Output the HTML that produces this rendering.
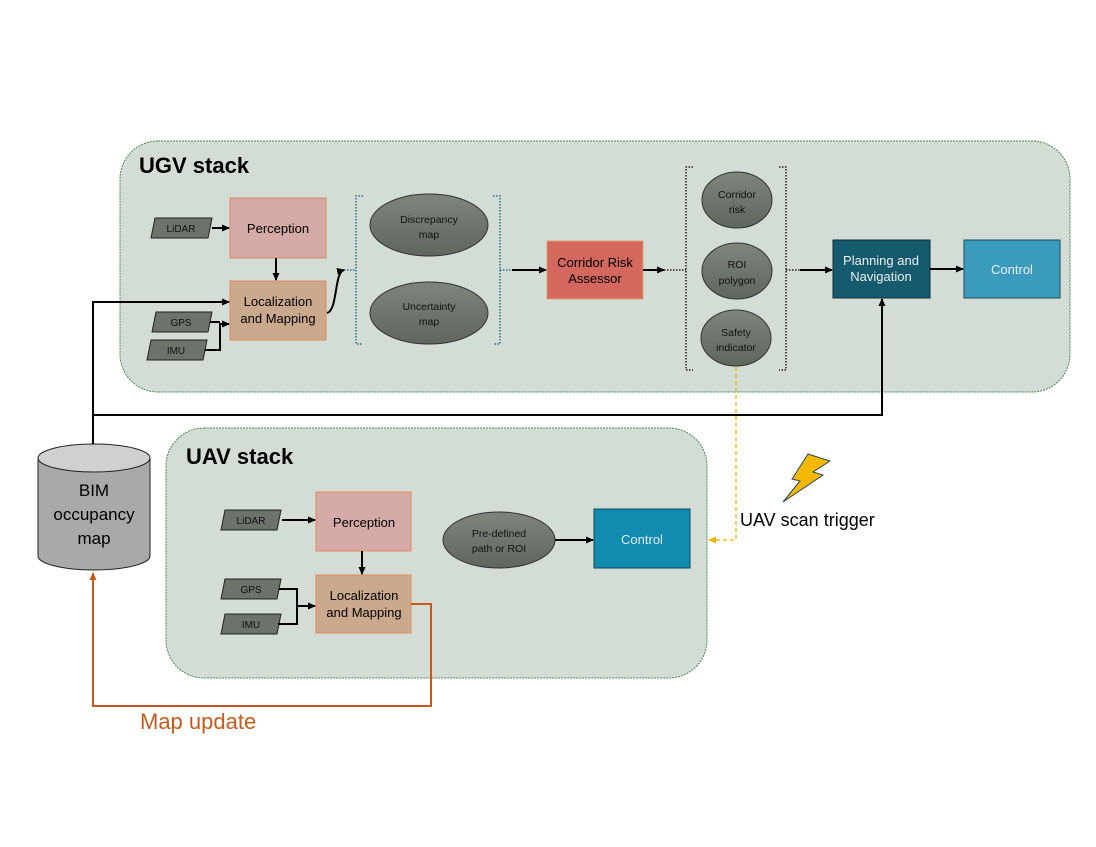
<!DOCTYPE html>
<html><head><meta charset="utf-8"><style>
body{margin:0;background:#fff}
svg{display:block;font-family:"Liberation Sans",sans-serif}
</style></head><body>
<svg width="1096" height="847" viewBox="0 0 1096 847" xmlns="http://www.w3.org/2000/svg">
<defs>
<marker id="a" markerWidth="8" markerHeight="8" refX="7" refY="4" orient="auto" markerUnits="userSpaceOnUse"><path d="M0,0.5 L8,4 L0,7.5z" fill="#000"/></marker>
<marker id="ao" markerWidth="8" markerHeight="8" refX="7" refY="4" orient="auto" markerUnits="userSpaceOnUse"><path d="M0,0.5 L8,4 L0,7.5z" fill="#c55a1e"/></marker>
<marker id="ay" markerWidth="8" markerHeight="8" refX="7" refY="4" orient="auto" markerUnits="userSpaceOnUse"><path d="M0,0.5 L8,4 L0,7.5z" fill="#f0b400"/></marker>
<linearGradient id="eg" x1="0" y1="0" x2="0" y2="1"><stop offset="0" stop-color="#7d857c"/><stop offset="1" stop-color="#5e665e"/></linearGradient>
</defs>
<rect x="120" y="141" width="950" height="251" rx="38" fill="#d4ddd5" stroke="#4a8a50" stroke-dasharray="2,1"/>
<rect x="166" y="428" width="541" height="250" rx="38" fill="#d4ddd5" stroke="#4a8a50" stroke-dasharray="2,1"/>
<text x="139" y="173" font-size="22" font-weight="bold">UGV stack</text>
<text x="186" y="464" font-size="22" font-weight="bold">UAV stack</text>

<g font-size="10" fill="#111" text-anchor="middle">
<polygon points="155,218 212,218 208,238 151,238" fill="#6b736b" stroke="#222"/><text x="181" y="232">LiDAR</text>
<polygon points="156,312 212,312 208,332 152,332" fill="#6b736b" stroke="#222"/><text x="181" y="326">GPS</text>
<polygon points="151,340 207,340 203,360 147,360" fill="#6b736b" stroke="#222"/><text x="176" y="354">IMU</text>
<polygon points="225,510 281,510 277,530 221,530" fill="#6b736b" stroke="#222"/><text x="251" y="524">LiDAR</text>
<polygon points="225,579 281,579 277,599 221,599" fill="#6b736b" stroke="#222"/><text x="251" y="593">GPS</text>
<polygon points="225,614 281,614 277,634 221,634" fill="#6b736b" stroke="#222"/><text x="251" y="628">IMU</text>
</g>

<rect x="230" y="198" width="96" height="60" fill="#d4aba7" stroke="#e08a5a"/>
<text x="278" y="233" font-size="13" text-anchor="middle">Perception</text>
<rect x="230" y="281" width="96" height="59" fill="#caa98c" stroke="#e08a5a"/>
<text x="278" y="306" font-size="13" text-anchor="middle">Localization</text>
<text x="278" y="323" font-size="13" text-anchor="middle">and Mapping</text>
<rect x="547" y="241" width="96" height="58" fill="#d4685e" stroke="#e0a070"/>
<text x="595" y="267" font-size="13" text-anchor="middle">Corridor Risk</text>
<text x="595" y="283" font-size="13" text-anchor="middle">Assessor</text>
<rect x="833" y="240" width="97" height="58" fill="#165a6e" stroke="#0b2f3a"/>
<text x="881" y="265" font-size="13" fill="#e8eef0" text-anchor="middle">Planning and</text>
<text x="881" y="281" font-size="13" fill="#e8eef0" text-anchor="middle">Navigation</text>
<rect x="964" y="240" width="96" height="58" fill="#3a9bbc" stroke="#1c4f60"/>
<text x="1012" y="274" font-size="13" fill="#e8eef0" text-anchor="middle">Control</text>

<g fill="url(#eg)" stroke="#333">
<ellipse cx="429" cy="225" rx="59" ry="31"/>
<ellipse cx="429" cy="313" rx="59" ry="31"/>
<ellipse cx="737" cy="200" rx="35" ry="28"/>
<ellipse cx="737" cy="271" rx="35" ry="28"/>
<ellipse cx="736" cy="338" rx="35" ry="28"/>
<ellipse cx="499" cy="540" rx="56" ry="28"/>
</g>
<g font-size="10.5" fill="#111" text-anchor="middle">
<text x="429" y="223">Discrepancy</text><text x="429" y="238">map</text>
<text x="429" y="310">Uncertainty</text><text x="429" y="325">map</text>
<text x="737" y="198">Corridor</text><text x="737" y="213">risk</text>
<text x="737" y="268">ROI</text><text x="737" y="284">polygon</text>
<text x="736" y="336">Safety</text><text x="736" y="351">indicator</text>
<text x="499" y="537">Pre-defined</text><text x="499" y="552">path or ROI</text>
</g>

<g fill="none" stroke="#2f6f8f" stroke-width="1.5" stroke-dasharray="1.5,1.5">
<path d="M363,196 H356 V344 H363"/><path d="M493,196 H500 V344 H493"/>
<path d="M344,270 H356 M500,270 H512"/>
</g>
<g fill="none" stroke="#222" stroke-width="1.5" stroke-dasharray="1.5,1.5">
<path d="M693,167 H686 V370 H693"/><path d="M779,167 H786 V370 H779"/>
<path d="M664,270 H686 M786,270 H800"/>
</g>

<rect x="316" y="492" width="95" height="59" fill="#d4aba7" stroke="#e08a5a"/>
<text x="364" y="527" font-size="13" text-anchor="middle">Perception</text>
<rect x="316" y="575" width="95" height="58" fill="#caa98c" stroke="#e08a5a"/>
<text x="364" y="600" font-size="13" text-anchor="middle">Localization</text>
<text x="364" y="617" font-size="13" text-anchor="middle">and Mapping</text>
<rect x="594" y="509" width="96" height="59" fill="#118bb0" stroke="#0d4a5e"/>
<text x="642" y="544" font-size="13" fill="#e0eef2" text-anchor="middle">Control</text>

<path d="M38,458 V556 A56,14 0 0 0 150,556 V458" fill="#a9a9a9" stroke="#222"/>
<ellipse cx="94" cy="458" rx="56" ry="14" fill="#d0d0d0" stroke="#222"/>
<text x="94" y="496" font-size="17" text-anchor="middle">BIM</text>
<text x="94" y="520" font-size="17" text-anchor="middle">occupancy</text>
<text x="94" y="544" font-size="17" text-anchor="middle">map</text>

<g fill="none" stroke="#000" stroke-width="2">
<path d="M212,228 H229" marker-end="url(#a)"/>
<path d="M276,258 V280" marker-end="url(#a)"/>
<path d="M210,322 H220 M205,350 H220 V324 H229" marker-end="url(#a)"/>
<path d="M93,444 V302 H229" marker-end="url(#a)"/>
<path d="M93,415 H882 V299" marker-end="url(#a)"/>
<path d="M327,313 C338,310 334,272 344,270" marker-end="url(#a)"/>
<path d="M512,270 H546" marker-end="url(#a)"/>
<path d="M643,270 H664" marker-end="url(#a)"/>
<path d="M800,270 H832" marker-end="url(#a)"/>
<path d="M930,269 H963" marker-end="url(#a)"/>
<path d="M282,520 H315" marker-end="url(#a)"/>
<path d="M362,551 V574" marker-end="url(#a)"/>
<path d="M279,589 H297 V624 H278 M297,606 H315" marker-end="url(#a)"/>
<path d="M555,540 H593" marker-end="url(#a)"/>
</g>
<path d="M736,367 V540 H709" fill="none" stroke="#f0b400" stroke-width="1.3" stroke-dasharray="4,3" marker-end="url(#ay)"/>
<path d="M411,604 H431 V706 H93 V573" fill="none" stroke="#c55a1e" stroke-width="2" marker-end="url(#ao)"/>
<text x="140" y="729" font-size="22" fill="#c55a1e">Map update</text>
<polygon points="808,454 830,461 813,472 823,475 783,502 800,481 792,479" fill="#f5b800" stroke="#2a4a5a" stroke-width="1"/>
<text x="740" y="526" font-size="18">UAV scan trigger</text>
</svg>
</body></html>
